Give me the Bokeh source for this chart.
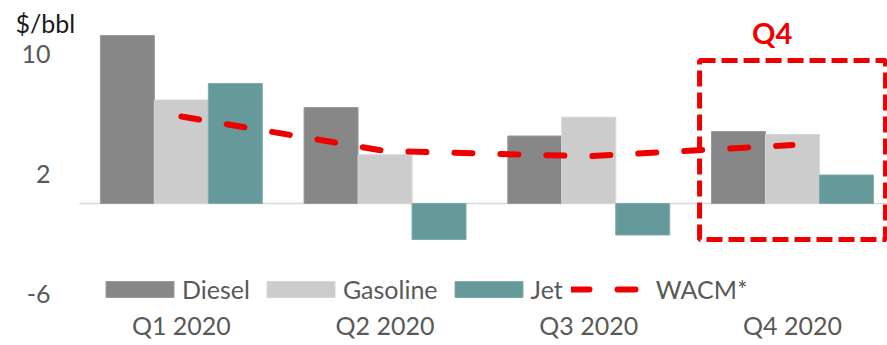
from bokeh.plotting import figure
from bokeh.models import (ColumnDataSource, FixedTicker, Label, BoxAnnotation,
                          Legend, LegendItem, Range1d, LinearAxis)
from bokeh.embed import file_html
from bokeh.resources import INLINE

quarters = ["Q1 2020", "Q2 2020", "Q3 2020", "Q4 2020"]
diesel = [11.2, 6.4, 4.5, 4.8]
gasoline = [6.9, 3.25, 5.75, 4.6]
jet = [8.0, -2.4, -2.1, 1.9]
wacm = [5.8, 3.5, 3.15, 3.9]
y_ticks = [-6, 2, 10]
y_tick_labels = ["-6", "2", "10"]

FONT = "Lato"
GRAY_TXT = "#595959"
RED = "#EE0000"

PX_X = 203.7            # pixels per category
X0 = -79 / PX_X         # left edge of canvas in data units
X1 = 808 / PX_X
Y_TOP = 203 / 15.0
Y_BOT = -(345 - 203) / 15.0

xc = [i + 0.5 for i in range(len(quarters))]
bw = 0.265

src = ColumnDataSource(dict(
    x=xc, diesel=diesel, gasoline=gasoline, jet=jet, wacm=wacm,
    xd=[v - bw for v in xc], xj=[v + bw for v in xc],
))

p = figure(width=887, height=345, output_backend="svg", toolbar_location=None,
           x_range=Range1d(X0, X1), y_range=Range1d(Y_BOT, Y_TOP),
           min_border_left=0, min_border_right=0, min_border_top=0,
           min_border_bottom=0, x_axis_location=None, y_axis_location=None)
p.outline_line_color = None
p.xgrid.visible = False
p.ygrid.visible = False
p.background_fill_color = "white"

# zero baseline
p.segment(x0=[0], y0=[0], x1=[X1], y1=[0], line_color="#D9D9D9", line_width=1.5)

r_d = p.vbar(x="xd", top="diesel", bottom=0, width=bw, source=src,
             fill_color="#878787", line_color="#9a9a9a", line_width=1)
r_g = p.vbar(x="x", top="gasoline", bottom=0, width=bw, source=src,
             fill_color="#CCCCCC", line_color="#d6d6d6", line_width=1)
r_j = p.vbar(x="xj", top="jet", bottom=0, width=bw, source=src,
             fill_color="#669999", line_color="#7fabab", line_width=1)
r_w = p.line(x="x", y="wacm", source=src, line_color=RED, line_width=6,
             line_dash="18 28", line_cap="round")

# axes drawn at fixed locations inside the canvas
yax = LinearAxis(ticker=FixedTicker(ticks=y_ticks), fixed_location=0)
yax.major_label_overrides = {t: s for t, s in zip(y_ticks, y_tick_labels)}
yax.axis_line_color = None
yax.major_tick_line_color = None
yax.minor_tick_line_color = None
yax.major_label_standoff = 23
yax.major_label_text_font = FONT
yax.major_label_text_font_size = "25px"
yax.major_label_text_color = GRAY_TXT
p.add_layout(yax, "left")

xax = LinearAxis(ticker=FixedTicker(ticks=xc), fixed_location=-6.0)
xax.major_label_overrides = {v: q for v, q in zip(xc, quarters)}
xax.axis_line_color = None
xax.major_tick_line_color = None
xax.minor_tick_line_color = None
xax.major_label_standoff = 10
xax.major_label_text_font = FONT
xax.major_label_text_font_size = "25px"
xax.major_label_text_color = GRAY_TXT
p.add_layout(xax, "below")

# annotations
p.add_layout(BoxAnnotation(left=3.044, right=3.957, top=9.53, bottom=-2.4,
                           fill_alpha=0, line_color=RED, line_alpha=1,
                           line_width=5, line_dash="16 6"))
p.add_layout(Label(x=3.40, y=11.4, text="Q4", text_align="center",
                   text_baseline="middle", text_color=RED, text_font=FONT,
                   text_font_style="bold", text_font_size="29px"))
p.add_layout(Label(x=-0.314, y=13.05, text="$/bbl", text_align="left",
                   text_baseline="top", text_color="#1a1a1a", text_font=FONT,
                   text_font_size="25px"))

legend = Legend(items=[
    LegendItem(label="Diesel", renderers=[r_d]),
    LegendItem(label="Gasoline", renderers=[r_g]),
    LegendItem(label="Jet", renderers=[r_j]),
    LegendItem(label="WACM*", renderers=[r_w]),
], orientation="horizontal", location=(97, 41))
legend.padding = 0
legend.margin = 0
legend.spacing = 8
legend.label_standoff = 0
legend.glyph_width = 85
legend.glyph_height = 20
legend.border_line_color = None
legend.background_fill_alpha = 0
legend.label_text_font = FONT
legend.label_text_font_size = "25px"
legend.label_text_color = GRAY_TXT
p.add_layout(legend, "center")

open("out.html", "w").write(file_html(p, INLINE))
